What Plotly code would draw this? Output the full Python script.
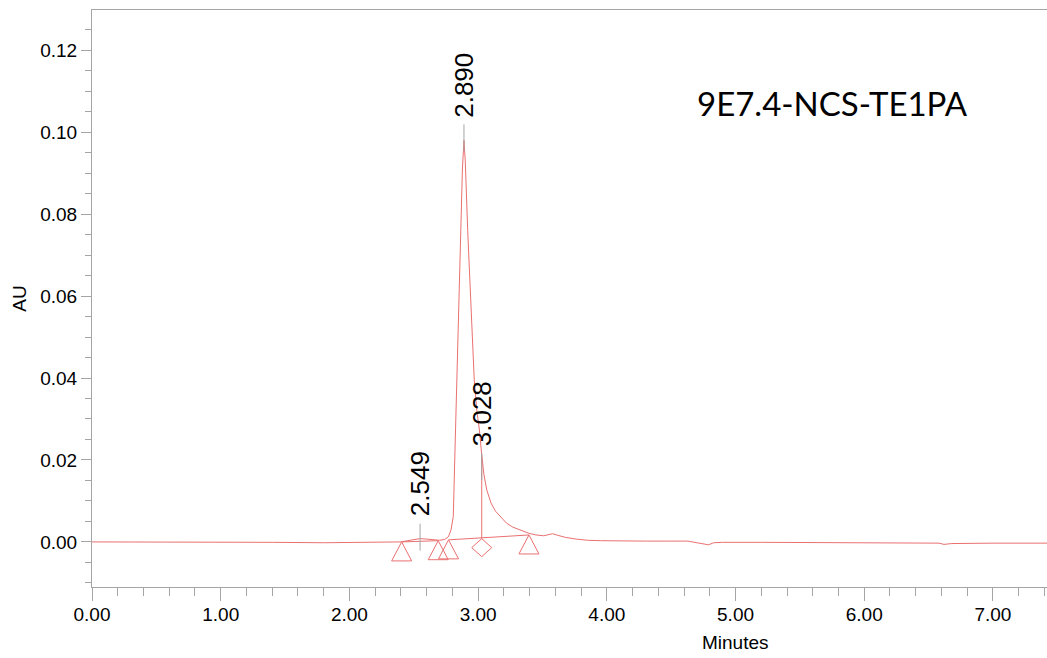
import plotly.graph_objects as go

# Chromatogram trace: retention time (min) and absorbance (AU)
time_min = [0.00, 0.30, 0.60, 1.00, 1.40, 1.80, 2.20, 2.40, 2.45, 2.50, 2.549, 2.60, 2.65,
            2.70, 2.74, 2.77, 2.79, 2.807, 2.825, 2.846, 2.864, 2.878, 2.890, 2.900, 2.919,
            2.940, 2.955, 2.970, 2.990, 3.010, 3.028, 3.045, 3.067, 3.10, 3.135, 3.17, 3.22,
            3.27, 3.326, 3.395, 3.45, 3.51, 3.55, 3.58, 3.62, 3.68, 3.76, 3.85, 3.95, 4.10,
            4.30, 4.50, 4.58, 4.63, 4.70, 4.76, 4.79, 4.83, 4.90, 5.20, 5.60, 6.00, 6.40,
            6.58, 6.62, 6.68, 7.00, 7.42]
absorbance_au = [0.0000, 0.0000, -0.0001, -0.0001, -0.0001, -0.0002, -0.0001, 0.0000, 0.0003,
                 0.0006, 0.0008, 0.0007, 0.0005, 0.0004, 0.0006, 0.0013, 0.0030, 0.0062,
                 0.0280, 0.0517, 0.0760, 0.0910, 0.0980, 0.0930, 0.0760, 0.0620, 0.0505,
                 0.0395, 0.0320, 0.0273, 0.0212, 0.0165, 0.0127, 0.0095, 0.0075, 0.0062,
                 0.0046, 0.0036, 0.0029, 0.0021, 0.0017, 0.0015, 0.0018, 0.0020, 0.0016,
                 0.0011, 0.0007, 0.0004, 0.0003, 0.0002, 0.0002, 0.0002, 0.0003, 0.0002,
                 -0.0002, -0.0006, -0.0007, -0.0002, -0.0001, -0.0001, -0.0002, -0.0002,
                 -0.0003, -0.0003, -0.0006, -0.0004, -0.0003, -0.0003]

# Integrated peaks: retention time and apex height
peak_rt = [2.549, 2.890, 3.028]
peak_au = [0.0008, 0.0980, 0.0212]

# Integration boundaries (start/end triangles, valley diamond)
boundary_t = [2.406, 2.690, 2.770, 3.028, 3.395]
boundary_au = [0.0000, 0.0003, 0.0005, 0.0008, 0.0017]
boundary_kind = ["tri", "tri", "tri", "dia", "tri"]

sample_name = "9E7.4-NCS-TE1PA"

x_ticks = [0, 1, 2, 3, 4, 5, 6, 7]
y_ticks = [0.00, 0.02, 0.04, 0.06, 0.08, 0.10, 0.12]

RED = "rgb(234,112,112)"
GREY = "rgb(165,165,165)"
FONT = "Liberation Sans, Arial, sans-serif"

fig = go.Figure()

fig.add_trace(go.Scatter(x=time_min, y=absorbance_au, mode="lines",
                         line=dict(color=RED, width=1), hoverinfo="skip",
                         showlegend=False))

# Baseline segments between integration boundaries
fig.add_trace(go.Scatter(x=[boundary_t[0], boundary_t[1], None, boundary_t[2], boundary_t[4]],
                         y=[boundary_au[0], boundary_au[1], None, boundary_au[2], boundary_au[4]],
                         mode="lines", line=dict(color=RED, width=1), hoverinfo="skip",
                         showlegend=False))

# Valley drop line at the shoulder peak
fig.add_trace(go.Scatter(x=[peak_rt[2], peak_rt[2]], y=[peak_au[2], boundary_au[3]],
                         mode="lines", line=dict(color=RED, width=1), hoverinfo="skip",
                         showlegend=False))

shapes = []
tri_path = "M0,0 L-10,-19 L10,-19 Z"
dia_path = "M0,0 L-10,-9 L0,-18 L10,-9 Z"
for t, a, k in zip(boundary_t, boundary_au, boundary_kind):
    shapes.append(dict(type="path", xref="x", yref="y", xsizemode="pixel", ysizemode="pixel",
                       xanchor=t, yanchor=a, path=tri_path if k == "tri" else dia_path,
                       line=dict(color=RED, width=1), fillcolor="rgba(0,0,0,0)"))

label_gap = [21, 22, 8]
annotations = []
for rt, h, gap in zip(peak_rt, peak_au, label_gap):
    annotations.append(dict(x=rt, y=h, xref="x", yref="y", text=f"{rt:.3f}", textangle=-90,
                            showarrow=False, xanchor="center", yanchor="bottom", yshift=gap,
                            borderpad=0, font=dict(family=FONT, size=26, color="black")))
    # short leader tick under each label
    shapes.append(dict(type="line", xref="x", yref="y", ysizemode="pixel",
                       x0=rt, x1=rt, yanchor=h, y0=gap - 6, y1=gap - 33,
                       line=dict(color=GREY, width=1)))

annotations.append(dict(x=0.674, y=-0.097, xref="paper", yref="paper", text="Minutes",
                        showarrow=False, xanchor="center", yanchor="middle",
                        font=dict(family=FONT, size=19, color="black")))
annotations.append(dict(x=0.775, y=0.838, xref="paper", yref="paper", text=sample_name,
                        showarrow=False, xanchor="center", yanchor="middle",
                        font=dict(family="Lato, Open Sans, sans-serif", size=33, color="black")))

fig.update_layout(
    width=1047, height=658, autosize=False,
    margin=dict(l=92, r=0, t=10, b=71),
    paper_bgcolor="white", plot_bgcolor="white",
    font=dict(family=FONT, size=19, color="black"),
    shapes=shapes, annotations=annotations, showlegend=False,
)

fig.update_xaxes(range=[0, 7.42], tickvals=x_ticks, ticktext=[f"{v:.2f}" for v in x_ticks],
                 ticks="outside", ticklen=13, tickcolor=GREY, tickwidth=1,
                 minor=dict(dtick=0.2, ticks="outside", ticklen=8, tickcolor=GREY),
                 showline=True, linecolor=GREY, linewidth=1, mirror=True,
                 showgrid=False, zeroline=False, ticklabelstandoff=-3,
                 tickfont=dict(family=FONT, size=19))

fig.update_yaxes(range=[-0.011, 0.1298], tickvals=y_ticks, ticktext=[f"{v:.2f}" for v in y_ticks],
                 ticks="outside", ticklen=10, tickcolor=GREY, tickwidth=1,
                 minor=dict(dtick=0.005, ticks="outside", ticklen=6, tickcolor=GREY),
                 showline=True, linecolor=GREY, linewidth=1,
                 showgrid=False, zeroline=False,
                 title=dict(text="AU", font=dict(family=FONT, size=19), standoff=8),
                 tickfont=dict(family=FONT, size=19))

fig.write_html("out.html")
